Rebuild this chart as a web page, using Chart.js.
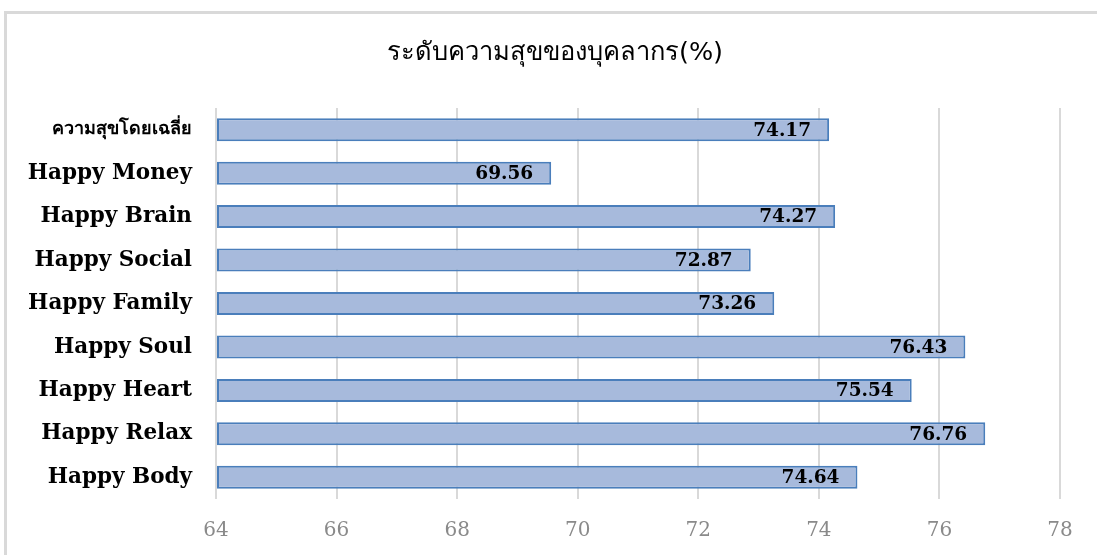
<!DOCTYPE html>
<html>
<head>
<meta charset="utf-8">
<script src="https://cdn.jsdelivr.net/npm/chart.js@4"></script>
<style>
  html, body { margin: 0; padding: 0; background: #fff; overflow: hidden; }
  #frame {
    position: absolute; left: 4px; top: 11px;
    width: 1200px; height: 700px;
    border: 3px solid #d9d9d9;
  }
  #wrap { position: absolute; left: 0; top: 0; width: 1097px; height: 555px; }
</style>
</head>
<body>
<div id="frame"></div>
<div id="wrap"><canvas id="happy"></canvas></div>
<script>
// ระดับความสุขของบุคลากร
const chartTitle = 'ระดับความสุขของบุคลากร(%)';
const categories = [
  'ความสุขโดยเฉลี่ย',
  'Happy Money',
  'Happy Brain',
  'Happy Social',
  'Happy Family',
  'Happy Soul',
  'Happy Heart',
  'Happy Relax',
  'Happy Body'
];
const scores = [74.17, 69.56, 74.27, 72.87, 73.26, 76.43, 75.54, 76.76, 74.64];
const axisMin = 64;
const axisMax = 78;
const axisStep = 2;

const serif = '"DejaVu Serif", "Liberation Serif", serif';

// light blue fill, lighter at the top of each bar
function barFill(ctx) {
  const chart = ctx.chart;
  const el = chart.getDatasetMeta(ctx.datasetIndex).data[ctx.dataIndex];
  if (!el || !el.height) return '#a7badc';
  const top = el.y - el.height / 2;
  const g = chart.ctx.createLinearGradient(0, top, 0, top + el.height);
  g.addColorStop(0, '#bdcce7');
  g.addColorStop(0.5, '#a5b8db');
  g.addColorStop(1, '#8ea8d3');
  return g;
}

// value printed inside the end of each bar
const valueLabels = {
  id: 'valueLabels',
  afterDatasetsDraw(chart) {
    const {ctx} = chart;
    const meta = chart.getDatasetMeta(0);
    const ds = chart.data.datasets[0];
    ctx.save();
    ctx.font = 'bold 18.5px ' + serif;
    ctx.fillStyle = '#000';
    ctx.textAlign = 'right';
    ctx.textBaseline = 'middle';
    meta.data.forEach((bar, i) => {
      ctx.fillText(ds.data[i].toFixed(2), bar.x - 18, bar.y + 1);
    });
    ctx.restore();
  }
};

// title centred on the whole frame, not just the plot box
const frameTitle = {
  id: 'frameTitle',
  afterDraw(chart) {
    const {ctx} = chart;
    ctx.save();
    ctx.font = '25.5px "DejaVu Sans", sans-serif';
    ctx.fillStyle = '#000';
    ctx.textAlign = 'center';
    ctx.textBaseline = 'middle';
    ctx.fillText(chartTitle, 555, 53);
    ctx.restore();
  }
};

new Chart(document.getElementById('happy'), {
  type: 'bar',
  data: {
    labels: categories,
    datasets: [{
      data: scores,
      base: axisMin,
      backgroundColor: barFill,
      borderColor: '#4a7ebb',
      borderWidth: 2,
      borderSkipped: false,
      categoryPercentage: 1.0,
      barPercentage: 0.53
    }]
  },
  options: {
    indexAxis: 'y',
    responsive: true,
    maintainAspectRatio: false,
    animation: false,
    layout: { padding: { top: 108, right: 37, bottom: 0, left: 0 } },
    plugins: {
      legend: { display: false },
      tooltip: { enabled: false },
      title: { display: false }
    },
    scales: {
      x: {
        min: axisMin,
        max: axisMax,
        ticks: {
          stepSize: axisStep,
          color: '#8a8a8a',
          padding: 20,
          font: { size: 20, family: serif }
        },
        grid: { color: '#d9d9d9', lineWidth: 2, drawTicks: false },
        border: { display: false },
        afterFit(scale) { scale.height = 56; }
      },
      y: {
        ticks: {
          color: '#000',
          padding: 24,
          font(ctx) {
            return ctx.index === 0
              ? { size: 18, weight: 'bold', family: '"DejaVu Sans", sans-serif' }
              : { size: 21.5, weight: 'bold', family: serif };
          }
        },
        grid: { display: false, drawTicks: false },
        border: { display: false },
        afterFit(scale) { scale.width = 216; }
      }
    }
  },
  plugins: [valueLabels, frameTitle]
});
</script>
</body>
</html>
